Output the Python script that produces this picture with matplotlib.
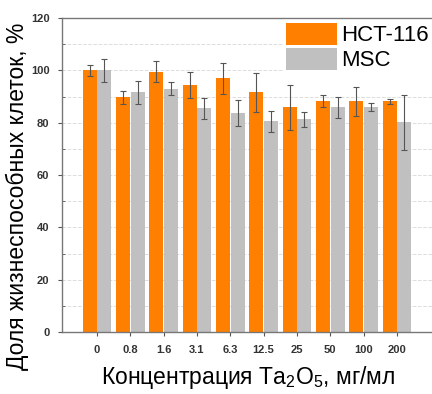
import matplotlib
matplotlib.use("Agg")
import matplotlib.pyplot as plt
import numpy as np

plt.rcParams['font.family'] = ['Liberation Sans', 'DejaVu Sans']
plt.rcParams['mathtext.fontset'] = 'custom'
plt.rcParams['mathtext.rm'] = 'Liberation Sans'
plt.rcParams['mathtext.it'] = 'Liberation Sans'

categories = ["0", "0.8", "1.6", "3.1", "6.3", "12.5", "25", "50", "100", "200"]
hct_values = [100, 89.7, 99.6, 94.3, 97, 91.6, 85.9, 88.2, 88.2, 88.2]
hct_errors = [2, 2.5, 4, 5, 6, 7.5, 8.5, 2.3, 5.5, 1]
msc_values = [100, 91.6, 93, 85.5, 83.6, 80.5, 81.3, 85.9, 85.9, 80.2]
msc_errors = [4.5, 4.3, 2.5, 4, 5, 4, 3, 4, 1.5, 10.5]
yticks = [0, 20, 40, 60, 80, 100, 120]

fig = plt.figure(figsize=(4.32, 3.94), dpi=100)
ax = fig.add_axes([0.1435, 0.157, 0.86, 0.797])

x = np.arange(len(categories))
w = 0.42
ax.bar(x - 0.22, hct_values, w, color='#FF8000', label='HCT-116', zorder=2,
       yerr=hct_errors, error_kw=dict(ecolor='#555555', elinewidth=0.8, capsize=2, capthick=0.8))
ax.bar(x + 0.22, msc_values, w, color='#C0C0C0', label='MSC', zorder=2,
       yerr=msc_errors, error_kw=dict(ecolor='#555555', elinewidth=0.8, capsize=2, capthick=0.8))

ax.set_xlim(-1.05, 10.1)
ax.set_ylim(0, 120)
ax.set_yticks(yticks)
ax.set_yticks(np.arange(0, 121, 10), minor=True)
ax.set_xticks(x)
ax.set_xticklabels(categories)
ax.grid(True, which='both', axis='y', color='#dddddd', linestyle='--', linewidth=0.7, zorder=0)
for lbl in ax.get_xticklabels() + ax.get_yticklabels():
    lbl.set_fontsize(8)
    lbl.set_fontweight('bold')
    lbl.set_color('#333333')
ax.tick_params(axis='both', which='major', direction='out', length=3, color='#555555', pad=6)
ax.tick_params(axis='y', which='minor', direction='in', length=2, color='#555555')
for s in ax.spines.values():
    s.set_color('#777777')
    s.set_linewidth(1.0)

ax.set_xlabel('Концентрация Ta$_2$O$_5$, мг/мл', fontsize=16.5)
ax.set_ylabel('Доля жизнеспособных клеток, %', fontsize=16.5)
ax.xaxis.set_label_coords(0.5, -0.1)
ax.yaxis.set_label_coords(-0.09, 0.433)

leg = ax.legend(loc='upper right', fontsize=16, frameon=True, framealpha=1, edgecolor='white',
                handlelength=2.3, handleheight=1.2, labelspacing=0.05, handletextpad=0.2,
                borderaxespad=0.1, borderpad=0.1, fancybox=False)
leg.set_zorder(5)

fig.savefig('out.png', dpi=100)
